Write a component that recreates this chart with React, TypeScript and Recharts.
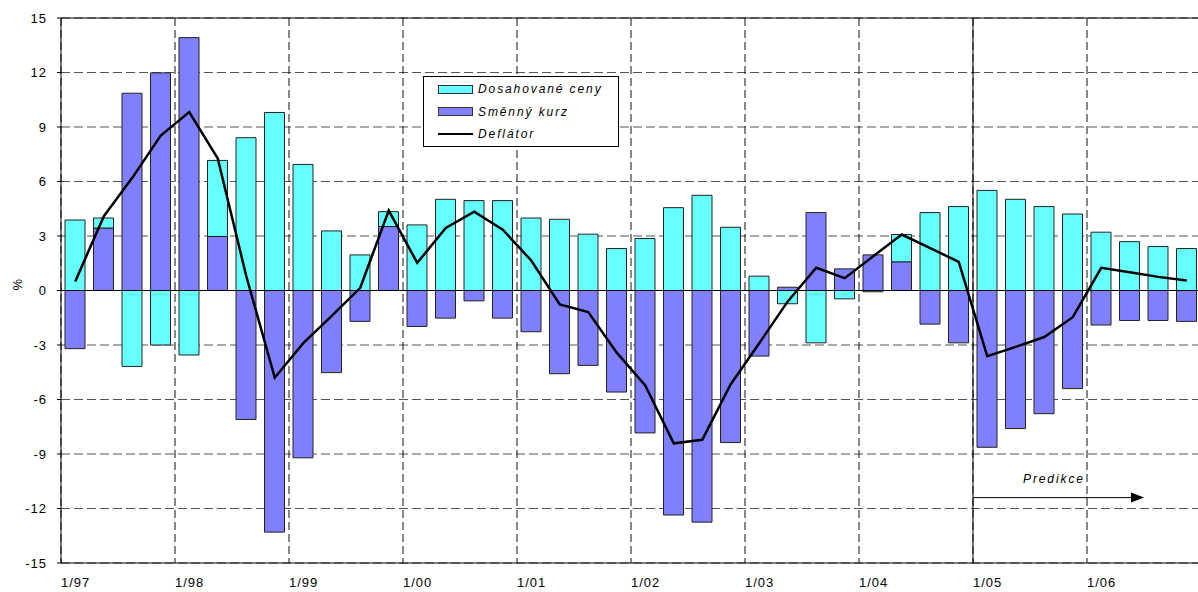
import { ComposedChart, Bar, Line, XAxis, YAxis, CartesianGrid, ReferenceLine } from "recharts"

// quarterly categories 1/97 .. 4/06
const quarters = [
  "1/97", "2/97", "3/97", "4/97", "1/98", "2/98", "3/98", "4/98",
  "1/99", "2/99", "3/99", "4/99", "1/00", "2/00", "3/00", "4/00",
  "1/01", "2/01", "3/01", "4/01", "1/02", "2/02", "3/02", "4/02",
  "1/03", "2/03", "3/03", "4/03", "1/04", "2/04", "3/04", "4/04",
  "1/05", "2/05", "3/05", "4/05", "1/06", "2/06", "3/06", "4/06",
]

const yearLabels = ["1/97", "1/98", "1/99", "1/00", "1/01", "1/02", "1/03", "1/04", "1/05", "1/06"]
const yearTicks = [0, 4, 8, 12, 16, 20, 24, 28, 32, 36]
const yTicks = [-15, -12, -9, -6, -3, 0, 3, 6, 9, 12, 15]

const ceny = [
  3.88, 0.55, -4.18, -3.0, -3.55, 4.19, 8.41, 9.8, 6.94, 3.28,
  1.96, 0.82, 3.61, 5.02, 4.95, 4.95, 3.99, 3.92, 3.1, 2.31,
  2.86, 4.56, 5.24, 3.48, 0.79, -0.73, -2.88, -0.46, -0.07, 1.5,
  4.29, 4.62, 5.51, 5.02, 4.62, 4.21, 3.21, 2.69, 2.42, 2.31,
]

const kurz = [
  -3.2, 3.44, 10.86, 11.98, 13.92, 2.97, -7.1, -13.3, -9.21, -4.52,
  -1.7, 3.52, -1.98, -1.52, -0.57, -1.52, -2.27, -4.58, -4.12, -5.59,
  -7.84, -12.36, -12.75, -8.37, -3.61, 0.18, 4.29, 1.19, 1.96, 1.58,
  -1.85, -2.88, -8.63, -7.6, -6.78, -5.4, -1.9, -1.65, -1.65, -1.7,
]

const deflator = [
  0.5, 4.08, 6.2, 8.53, 9.82, 7.27, 0.8, -4.8, -2.9, -1.4,
  0.15, 4.4, 1.52, 3.44, 4.34, 3.35, 1.65, -0.77, -1.19, -3.42,
  -5.22, -8.41, -8.22, -5.16, -2.9, -0.6, 1.25, 0.68, 1.89, 3.08,
  2.33, 1.58, -3.61, -3.1, -2.56, -1.47, 1.25, 1.0, 0.75, 0.55,
]

// forecast marker (quarter index / value)
const forecastFrom = 32
const forecastTo = 38
const forecastLevel = -11.4

const data = quarters.map((q, i) => ({
  q,
  idx: i,
  ceny: ceny[i],
  kurz: kurz[i],
  deflator: deflator[i],
}))

const FONT = "'Liberation Sans', Arial, sans-serif"
const CYAN = "#66FFFF"
const BLUE = "#8080FF"

const legendItems = [
  { name: "Dosahované ceny", color: CYAN, type: "bar" },
  { name: "Směnný kurz", color: BLUE, type: "bar" },
  { name: "Deflátor", color: "#000", type: "line" },
]

function ForecastArrow(props: any) {
  const { x1, y1, x2 } = props
  return (
    <g>
      <line x1={x1} y1={y1} x2={x2 - 10} y2={y1} stroke="#000" strokeWidth={1} />
      <polygon points={`${x2},${y1} ${x2 - 13},${y1 - 5} ${x2 - 13},${y1 + 5}`} fill="#000" />
      <text x={x1 + 50} y={y1 - 15} fontSize={12} fontStyle="italic" letterSpacing={1.9} fontFamily={FONT} fill="#000">
        Predikce
      </text>
    </g>
  )
}

export default function App() {
  return (
    <div style={{ position: "absolute", left: 0, top: 0, width: 1198, height: 592, overflow: "hidden", background: "#fff" }}>
      <ComposedChart
        width={1202}
        height={592}
        data={data}
        margin={{ top: 18, right: 1, left: 0, bottom: 0 }}
        stackOffset="sign"
      >
        <CartesianGrid xAxisId="num" vertical={false} stroke="#555" strokeDasharray="9 4" />
        <CartesianGrid xAxisId="num" horizontal={false} stroke="#111" strokeDasharray="8 4" />
        <XAxis
          xAxisId="num"
          type="number"
          dataKey="idx"
          domain={[0, 40]}
          ticks={yearTicks}
          interval={0}
          allowDataOverflow
          tickFormatter={(v: number) => yearLabels[Math.round(v / 4)]}
          tick={{ textAnchor: "start", fontSize: 13, fill: "#000", fontFamily: FONT, letterSpacing: 1 }}
          tickLine={false}
          tickMargin={9}
          axisLine={{ stroke: "#000" }}
          height={29}
        />
        <XAxis xAxisId="cat" dataKey="q" orientation="top" height={0} hide />
        <YAxis
          domain={[-15, 15]}
          ticks={yTicks}
          interval={0}
          width={61}
          tickSize={4}
          tickMargin={10}
          tickLine={{ stroke: "#000" }}
          axisLine={{ stroke: "#000" }}
          tick={{ fontSize: 13, fill: "#000", fontFamily: FONT, letterSpacing: 1 }}
          label={{ value: "%", angle: -90, position: "insideLeft", offset: 17, fontSize: 13, fill: "#000", fontFamily: FONT }}
        />
        <Bar xAxisId="cat" dataKey="kurz" name="Směnný kurz" stackId="s" barSize={20} fill={BLUE} stroke="#222" strokeWidth={1} isAnimationActive={false} />
        <Bar xAxisId="cat" dataKey="ceny" name="Dosahované ceny" stackId="s" barSize={20} fill={CYAN} stroke="#222" strokeWidth={1} isAnimationActive={false} />
        <ReferenceLine xAxisId="num" y={0} stroke="#000" strokeWidth={1} />
        <ReferenceLine xAxisId="num" y={15} stroke="#000" strokeWidth={1} />
        <ReferenceLine xAxisId="num" x={forecastFrom} stroke="#000" strokeWidth={1} />
        <ReferenceLine
          xAxisId="num"
          segment={[{ x: forecastFrom, y: forecastLevel }, { x: forecastTo, y: forecastLevel }]}
          shape={<ForecastArrow />}
        />
        <Line
          xAxisId="cat"
          dataKey="deflator"
          name="Deflátor"
          type="linear"
          stroke="#000"
          strokeWidth={2.5}
          dot={false}
          activeDot={false}
          isAnimationActive={false}
        />
      </ComposedChart>
      <div
        style={{
          position: "absolute",
          left: 423,
          top: 76,
          width: 196,
          height: 71,
          boxSizing: "border-box",
          border: "1px solid #000",
          background: "#fff",
          fontFamily: FONT,
          fontSize: 12,
          fontStyle: "italic",
          letterSpacing: 1.9,
        }}
      >
        {legendItems.map((item, i) => (
          <div key={item.name} style={{ position: "absolute", left: 14, top: 4 + i * 22.5, height: 16, display: "flex", alignItems: "center" }}>
            {item.type === "bar" ? (
              <span style={{ display: "inline-block", width: 35, height: 9, boxSizing: "border-box", background: item.color, border: "1px solid #333" }} />
            ) : (
              <span style={{ display: "inline-block", width: 35, height: 2.5, background: item.color }} />
            )}
            <span style={{ marginLeft: 5 }}>{item.name}</span>
          </div>
        ))}
      </div>
    </div>
  )
}
